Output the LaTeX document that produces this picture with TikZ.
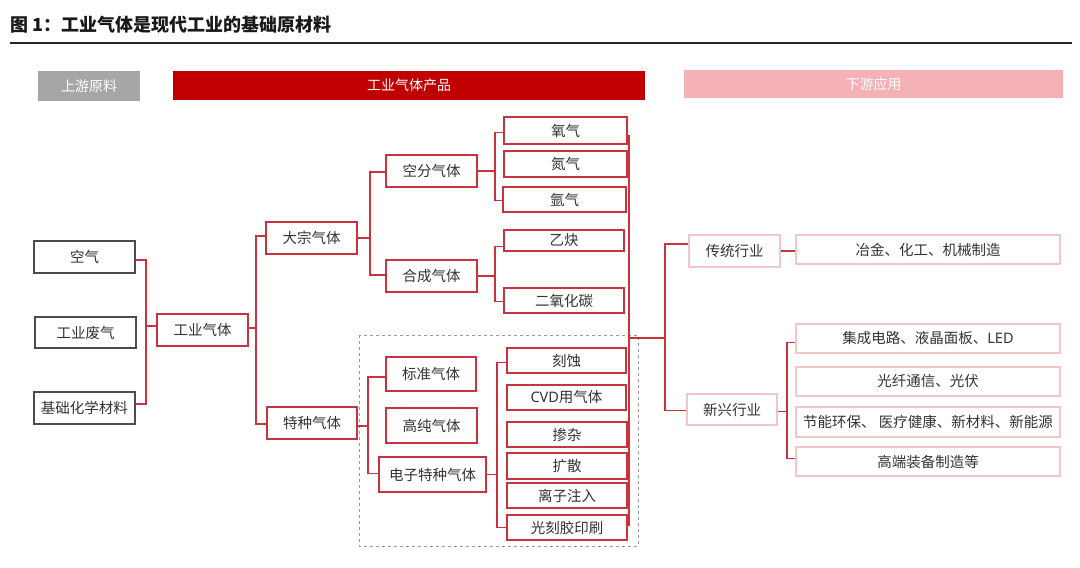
\documentclass[tikz,border=0pt]{standalone}
\usepackage{fontspec}
\setmainfont{Noto Sans CJK SC}
\newfontfamily\lat{Noto Sans}
\definecolor{lred}{HTML}{C8333D}
\definecolor{hdred}{HTML}{C00000}
\definecolor{hdpink}{HTML}{F4B1B6}
\definecolor{hdgray}{HTML}{A6A6A6}
\definecolor{pborder}{HTML}{F0C6CA}
\definecolor{txt}{HTML}{333333}
\tikzset{
  base/.style={inner sep=0pt, text=txt, font=\fontsize{14.5}{15}\selectfont, fill=white},
  redbox/.style={base, draw=lred, line width=1.3pt},
  blkbox/.style={base, draw=black!70, line width=1.3pt},
  pinkbox/.style={base, draw=pborder, line width=1.3pt},
  hdbox/.style={inner sep=0pt, text=white, font=\fontsize{14}{15}\selectfont},
  conn/.style={draw=lred, line width=1.3pt},
  dashbox/.style={draw=black!40, dashed, line width=0.9pt}
}
\newcommand\bx[7]{\node[#1, minimum width={#4-#2}, minimum height={#5-#3}] (#6) at ({(#2+#4)/2},{(#3+#5)/2}) {#7};}
\begin{document}
\begin{tikzpicture}[x=1pt,y=-1pt]
\useasboundingbox (0,0) rectangle (1080,568);
% title
\node[anchor=west, inner sep=0pt, font=\fontsize{18}{19}\selectfont\bfseries, text=black!90] (title) at (10,25) {图 1：工业气体是现代工业的基础原材料};
\coordinate (rl) at (10,43);
\coordinate (rr) at (1072,43);
\draw[line width=1.4pt, black!85] (rl) -- (rr);
% headers
\bx{hdbox, fill=hdgray}{38}{71}{140}{101}{h1}{上游原料}
\bx{hdbox, fill=hdred}{173}{71}{645}{100}{h2}{工业气体产品}
\bx{hdbox, fill=hdpink}{684}{70}{1063}{98}{h3}{下游应用}
% dashed region
\draw[dashbox] (359,335) rectangle (638,546);
% bus coordinates
\coordinate (b1) at (146,0);
\coordinate (b2) at (256,0);
\coordinate (b3) at (370,0);
\coordinate (b4) at (495,0);
\coordinate (b5) at (368,0);
\coordinate (b6) at (497,0);
\coordinate (b7) at (629,0);
\coordinate (b8) at (665,0);
\coordinate (b9) at (787,0);
% left
\bx{blkbox}{34}{241}{135}{273}{kq}{空气}
\bx{blkbox}{35}{317}{136}{348}{fq}{工业废气}
\bx{blkbox}{34}{392}{135}{424}{jc}{基础化学材料}
\bx{redbox}{157}{314}{248}{346}{gy}{工业气体}
\bx{redbox}{266}{222}{357}{254}{dz}{大宗气体}
\bx{redbox}{267}{407}{357}{439}{tz}{特种气体}
\bx{redbox}{386}{155}{477}{187}{kf}{空分气体}
\bx{redbox}{386}{260}{477}{292}{hc}{合成气体}
\bx{redbox}{504}{117}{627}{144}{yq}{氧气}
\bx{redbox}{504}{151}{627}{177}{dq}{氮气}
\bx{redbox}{503}{187}{626}{212}{aq}{氩气}
\bx{redbox}{504}{230}{624}{251}{yj}{乙炔}
\bx{redbox}{504}{288}{624}{313}{eyht}{二氧化碳}
\bx{redbox}{386}{357}{476}{391}{bz}{标准气体}
\bx{redbox}{386}{408}{477}{443}{gc}{高纯气体}
\bx{redbox}{379}{457}{486}{492}{dzt}{电子特种气体}
\bx{redbox}{507}{348}{626}{373}{ks}{刻蚀}
\bx{redbox}{507}{385}{626}{410}{cvd}{{\lat CVD}用气体}
\bx{redbox}{507}{422}{627}{447}{cz}{掺杂}
\bx{redbox}{507}{453}{627}{479}{ks2}{扩散}
\bx{redbox}{507}{483}{627}{508}{lz}{离子注入}
\bx{redbox}{507}{515}{627}{540}{gk}{光刻胶印刷}
% right
\bx{pinkbox}{689}{235}{780}{267}{ct}{传统行业}
\bx{pinkbox}{796}{235}{1060}{264}{yjh}{冶金、化工、机械制造}
\bx{pinkbox}{687}{394}{777}{425}{xx}{新兴行业}
\bx{pinkbox}{796}{324}{1060}{353}{jcd}{集成电路、液晶面板、{\lat LED}}
\bx{pinkbox}{796}{367}{1060}{396}{gx}{光纤通信、光伏}
\bx{pinkbox}{796}{407}{1060}{437}{jn}{节能环保、 医疗健康、新材料、新能源}
\bx{pinkbox}{796}{447}{1060}{476}{gd}{高端装备制造等}
% connectors: left
\draw[conn] ([yshift=-3pt]kq.east) -- ([yshift=-3pt]kq.east -| b1) -- ([yshift=4pt]jc.east -| b1) -- ([yshift=4pt]jc.east);
\draw[conn] ([yshift=4pt]gy.west -| b1) -- ([yshift=4pt]gy.west);
\draw[conn] ([yshift=2pt]gy.east) -- ([yshift=2pt]gy.east -| b2);
\draw[conn] ([yshift=2pt]dz.west) -- ([yshift=2pt]dz.west -| b2) -- ([yshift=-1pt]tz.west -| b2) -- ([yshift=-1pt]tz.west);
% 大宗
\draw[conn] (dz.east) -- (dz.east -| b3);
\draw[conn] ([yshift=-1pt]kf.west) -- ([yshift=-1pt]kf.west -| b3) -- ([yshift=1pt]hc.west -| b3) -- ([yshift=1pt]hc.west);
\draw[conn] (kf.east) -- (kf.east -| b4);
\draw[conn] ([yshift=-2pt]yq.west) -- ([yshift=-2pt]yq.west -| b4) -- ([yshift=-1pt]aq.west -| b4) -- ([yshift=-1pt]aq.west);
\draw[conn] (hc.east) -- (hc.east -| b4);
\draw[conn] ([yshift=-6pt]yj.west) -- ([yshift=-6pt]yj.west -| b4) -- ([yshift=-1pt]eyht.west -| b4) -- ([yshift=-1pt]eyht.west);
% 特种
\draw[conn] ([yshift=-3pt]tz.east) -- ([yshift=-3pt]tz.east -| b5);
\draw[conn] ([yshift=-3pt]bz.west) -- ([yshift=-3pt]bz.west -| b5) -- ([yshift=1pt]dzt.west -| b5) -- ([yshift=1pt]dzt.west);
\draw[conn] (dzt.east) -- (dzt.east -| b6);
\draw[conn] ([yshift=-2pt]ks.west) -- ([yshift=-2pt]ks.west -| b6) -- (gk.west -| b6) -- (gk.west);
% products to downstream
\draw[conn] ([yshift=-5pt]yq.east) -- ([yshift=-5pt]yq.east -| b7) -- ([yshift=2pt]gk.east -| b7) -- ([yshift=2pt]gk.east);
\coordinate (jn0) at (629,338);
\draw[conn] (jn0) -- (jn0 -| b8);
\draw[conn] ([yshift=7pt]ct.west) -- ([yshift=7pt]ct.west -| b8) -- ([yshift=-1pt]xx.west -| b8) -- ([yshift=-1pt]xx.west);
\draw[conn] (ct.east) -- (ct.east -| yjh.west);
\draw[conn] ([yshift=-2pt]xx.east) -- ([yshift=-2pt]xx.east -| b9);
\draw[conn] ([yshift=-4pt]jcd.west) -- ([yshift=-4pt]jcd.west -| b9) -- ([yshift=3pt]gd.west -| b9) -- ([yshift=3pt]gd.west);
\end{tikzpicture}
\end{document}
